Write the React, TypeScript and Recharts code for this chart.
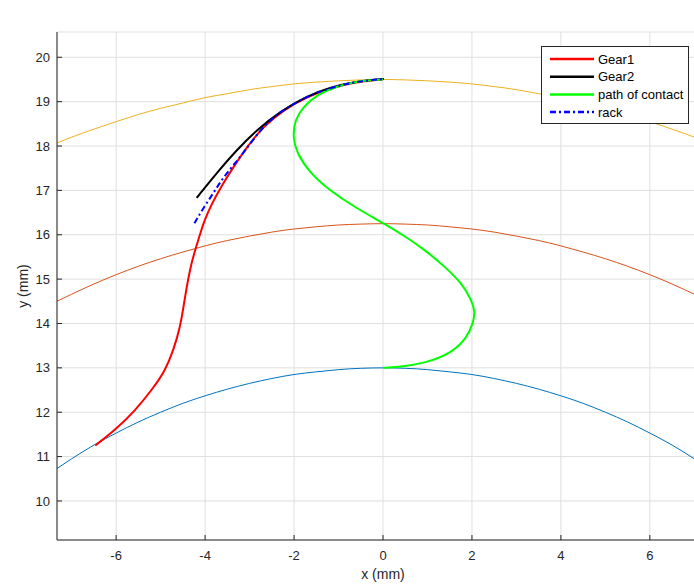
import React from 'react';
import { LineChart, Line, XAxis, YAxis, CartesianGrid, Legend } from 'recharts';

const FONT = '"Liberation Sans", Arial, Helvetica, sans-serif';
const TITLE = 'συνεργαζόμενες κατατομές από καμπύλη Bezier για Z=6';
const X_LABEL = 'x (mm)';
const Y_LABEL = 'y (mm)';

const xTicks = [-6, -4, -2, 0, 2, 4, 6];
const yTicks = [10, 11, 12, 13, 14, 15, 16, 17, 18, 19, 20];

// circle arcs (read at x = -7.5 ... 7.5, step 0.5)
const arcX = [-7.5, -7, -6.5, -6, -5.5, -5, -4.5, -4, -3.5, -3, -2.5, -2, -1.5, -1, -0.5, 0,
  0.5, 1, 1.5, 2, 2.5, 3, 3.5, 4, 4.5, 5, 5.5, 6, 6.5, 7, 7.5];
const rootY = [10.62, 10.95, 11.26, 11.53, 11.78, 12.0, 12.2, 12.37, 12.52, 12.65, 12.76, 12.85, 12.91, 12.96, 12.99, 13.0,
  12.99, 12.96, 12.91, 12.85, 12.76, 12.65, 12.52, 12.37, 12.2, 12.0, 11.78, 11.53, 11.26, 10.95, 10.62];
const pitchY = [14.42, 14.66, 14.89, 15.1, 15.29, 15.46, 15.61, 15.75, 15.87, 15.97, 16.06, 16.13, 16.18, 16.22, 16.24, 16.25,
  16.24, 16.22, 16.18, 16.13, 16.06, 15.97, 15.87, 15.75, 15.61, 15.46, 15.29, 15.1, 14.89, 14.66, 14.42];
const tipY = [18.0, 18.2, 18.38, 18.55, 18.71, 18.85, 18.97, 19.09, 19.18, 19.27, 19.34, 19.4, 19.44, 19.47, 19.49, 19.5,
  19.49, 19.47, 19.44, 19.4, 19.34, 19.27, 19.18, 19.09, 18.97, 18.85, 18.71, 18.55, 18.38, 18.2, 18.0];

const gear1X = [-6.47, -6.02, -5.57, -5.2, -4.9, -4.71, -4.56, -4.49, -4.41, -4.31, -4.2, -4.11, -4.0,
  -3.85, -3.62, -3.36, -3.06, -2.69, -2.24, -1.71, -1.19, -0.67, -0.14, 0];
const gear1Y = [11.25, 11.6, 12.04, 12.5, 12.93, 13.4, 13.93, 14.35, 14.85, 15.36, 15.73, 16.03, 16.36,
  16.7, 17.12, 17.53, 17.98, 18.44, 18.81, 19.11, 19.3, 19.43, 19.49, 19.5];

const gear2X = [-4.19, -3.74, -3.29, -2.84, -2.31, -1.71, -1.19, -0.67, -0.14, 0.02];
const gear2Y = [16.83, 17.39, 17.91, 18.36, 18.78, 19.13, 19.32, 19.44, 19.5, 19.51];

const contactX = [0, 0.3, 0.94, 1.54, 1.88, 2.03, 2.07, 1.99, 1.77, 1.39, 0.94, 0.49, 0.01, -0.65, -1.21, -1.64, -1.94,
  -2.03, -1.98, -1.79, -1.49, -1.04, -0.52, -0.07, 0];
const contactY = [13.0, 13.01, 13.1, 13.33, 13.67, 14.01, 14.27, 14.53, 14.91, 15.28, 15.66, 15.97, 16.26, 16.63, 17.01, 17.39, 17.84,
  18.21, 18.59, 18.89, 19.15, 19.35, 19.47, 19.5, 19.5];

const rackX = [-4.24, -4.04, -3.82, -3.62, -3.38, -3.14, -2.69, -2.24, -1.71, -1.19, -0.67, -0.14, 0.03];
const rackY = [16.26, 16.6, 16.93, 17.25, 17.55, 17.84, 18.46, 18.82, 19.12, 19.31, 19.44, 19.5, 19.51];

const legendNames = ['Gear1', 'Gear2', 'path of contact', 'rack'];
const legendColors = ['#ff0000', '#000000', '#00ff00', '#0000ff'];
const legendDash = [undefined, undefined, undefined, '6 3 2 3'];

const zip = (xs: number[], ys: number[]) => xs.map((x, i) => ({ x, y: ys[i] }));
const rootData = zip(arcX, rootY);
const pitchData = zip(arcX, pitchY);
const tipData = zip(arcX, tipY);
const gear1Data = zip(gear1X, gear1Y);
const gear2Data = zip(gear2X, gear2Y);
const contactData = zip(contactX, contactY);
const rackData = zip(rackX, rackY);

const AXIS = '#262626';

const LegendBox = () => (
  <svg width={148} height={78} style={{ display: 'block' }}>
    <rect x={0.5} y={0.5} width={147} height={77} fill="#ffffff" stroke={AXIS} strokeWidth={1} />
    {legendNames.map((n, i) => {
      const cy = 13 + i * 17.7;
      return (
        <g key={n}>
          <line x1={9} x2={53} y1={cy} y2={cy} stroke={legendColors[i]} strokeWidth={2.5} strokeDasharray={legendDash[i]} />
          <text x={57} y={cy} dominantBaseline="central" fontSize={13} fontFamily={FONT} fill="#000">{n}</text>
        </g>
      );
    })}
  </svg>
);

export default function App() {
  return (
    <div style={{ position: 'fixed', left: 0, top: 0, width: 694, height: 584, overflow: 'hidden', background: '#fff' }}>
      <LineChart width={710} height={584} margin={{ top: 32, right: 1, bottom: 0, left: 0 }}>
        <CartesianGrid stroke="#dfdfdf" strokeWidth={1} />
        <XAxis
          dataKey="x"
          type="number"
          domain={[-7.33, 7.33]}
          allowDataOverflow
          ticks={xTicks}
          height={44}
          tickSize={-5}
          tickMargin={16}
          axisLine={{ stroke: AXIS, strokeWidth: 1 }}
          tickLine={{ stroke: AXIS, strokeWidth: 1 }}
          tick={{ fill: AXIS, fontSize: 13, fontFamily: FONT }}
          label={() => (
            <text x={383} y={574} textAnchor="middle" dominantBaseline="central" fontSize={14} fontFamily={FONT} fill={AXIS}>
              {X_LABEL}
            </text>
          )}
        />
        <XAxis
          xAxisId="top"
          orientation="top"
          dataKey="x"
          type="number"
          domain={[-7.33, 7.33]}
          allowDataOverflow
          ticks={xTicks}
          height={0}
          tickSize={-5}
          axisLine={{ stroke: AXIS, strokeWidth: 1 }}
          tickLine={{ stroke: AXIS, strokeWidth: 1 }}
          tick={false}
          label={() => (
            <text x={383} y={18} textAnchor="middle" dominantBaseline="central" fontSize={14} fontWeight="bold" fontFamily={FONT} fill="#000">
              {TITLE}
            </text>
          )}
        />
        <YAxis
          type="number"
          domain={[9.12, 20.57]}
          allowDataOverflow
          ticks={yTicks}
          width={57}
          tickSize={-5}
          tickMargin={12}
          axisLine={{ stroke: AXIS, strokeWidth: 1 }}
          tickLine={{ stroke: AXIS, strokeWidth: 1 }}
          tick={{ fill: AXIS, fontSize: 13, fontFamily: FONT }}
          label={() => (
            <text x={23} y={286} transform="rotate(-90 23 286)" textAnchor="middle" dominantBaseline="central" fontSize={14} fontFamily={FONT} fill={AXIS}>
              {Y_LABEL}
            </text>
          )}
        />
        <Line data={rootData} dataKey="y" type="natural" stroke="#0072bd" strokeWidth={1} dot={false} isAnimationActive={false} legendType="none" />
        <Line data={pitchData} dataKey="y" type="natural" stroke="#d95319" strokeWidth={1} dot={false} isAnimationActive={false} legendType="none" />
        <Line data={tipData} dataKey="y" type="natural" stroke="#edb120" strokeWidth={1} dot={false} isAnimationActive={false} legendType="none" />
        <Line data={gear1Data} dataKey="y" name="Gear1" type="basis" stroke="#ff0000" strokeWidth={2} dot={false} isAnimationActive={false} />
        <Line data={gear2Data} dataKey="y" name="Gear2" type="basis" stroke="#000000" strokeWidth={2} dot={false} isAnimationActive={false} />
        <Line data={contactData} dataKey="y" name="path of contact" type="basis" stroke="#00ff00" strokeWidth={2} dot={false} isAnimationActive={false} />
        <Line data={rackData} dataKey="y" name="rack" type="basis" stroke="#0000ff" strokeWidth={2} strokeDasharray="6 3 2 3" dot={false} isAnimationActive={false} />
        <Legend
          layout="vertical"
          align="center"
          verticalAlign="middle"
          content={() => <LegendBox />}
          wrapperStyle={{ left: 541, top: 46, width: 148, height: 78 }}
        />
      </LineChart>
    </div>
  );
}
